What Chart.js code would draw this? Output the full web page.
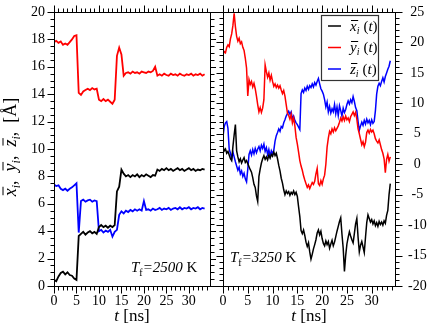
<!DOCTYPE html>
<html><head><meta charset="utf-8">
<script src="https://cdn.jsdelivr.net/npm/chart.js@4/dist/chart.umd.min.js"></script>
<style>
html,body{margin:0;padding:0;background:#fff;}
#wrap{position:relative;width:429px;height:329px;overflow:hidden;}
#c1{position:absolute;left:0;top:0;}
#c2{position:absolute;left:216px;top:0;}
</style></head>
<body><div id="wrap"><canvas id="c1" width="216" height="329"></canvas><canvas id="c2" width="213" height="329"></canvas></div>
<script>
// ---------- DATA ----------
// Left panel: T_f = 2500 K, time [ns]
const tLeft = [0,0.5,1,1.5,2,2.5,3,3.5,4,4.5,5,5.5,6,6.5,7,7.5,8,8.5,9,9.5,10,10.5,11,11.5,12,12.5,13,13.5,14,14.5,15,15.5,16,16.5,17,17.5,18,18.5,19,19.5,20,20.5,21,21.5,22,22.5,23,23.5,24,24.5,25,25.5,26,26.5,27,27.5,28,28.5,29,29.5,30,30.5,31,31.5,32,32.5,33,33.5];
const xLeft = [0.45,0.35,0.7,0.95,1.05,0.85,1.0,0.8,0.75,0.55,0.45,3.65,3.8,3.95,3.75,3.9,4.0,3.85,3.95,3.8,4.3,4.45,4.3,4.4,4.25,4.4,4.3,4.45,6.9,7.25,8.5,8.2,8.0,8.1,7.95,8.1,8.0,8.15,7.95,8.1,8.0,8.15,8.05,7.95,8.1,8.05,8.5,8.4,8.55,8.45,8.6,8.45,8.55,8.4,8.5,8.6,8.45,8.55,8.4,8.5,8.6,8.45,8.55,8.4,8.5,8.45,8.55,8.5];
const yLeft = [17.8,17.9,17.75,17.85,17.6,17.7,17.6,17.8,18.0,18.25,18.3,14.1,13.95,14.2,14.3,14.4,14.3,14.45,14.35,14.4,13.6,13.5,13.65,13.5,13.6,13.45,13.3,13.6,16.8,17.4,16.9,15.35,15.55,15.6,15.5,15.65,15.55,15.6,15.5,15.65,15.6,15.55,15.65,15.6,15.7,16.0,15.35,15.45,15.35,15.5,15.4,15.35,15.5,15.4,15.45,15.35,15.5,15.4,15.35,15.45,15.4,15.5,15.35,15.45,15.4,15.5,15.35,15.45];
const zLeft = [7.4,7.3,7.35,7.1,7.0,7.1,6.95,7.1,7.2,7.35,7.5,3.9,6.2,6.3,6.15,6.25,6.3,6.15,6.25,6.2,4.0,4.1,3.9,4.05,3.95,4.1,3.6,3.95,4.1,5.2,5.45,5.3,5.5,5.4,5.55,5.45,5.6,5.5,5.6,5.5,6.2,5.55,5.6,5.5,5.65,5.55,5.6,5.7,5.55,5.65,5.6,5.7,5.55,5.65,5.7,5.6,5.75,5.6,5.7,5.65,5.75,5.6,5.7,5.65,5.75,5.6,5.7,5.65];

// Right panel: T_f = 3250 K, time [ns]
const tRight = [0,0.25,0.5,0.75,1,1.25,1.5,1.75,2,2.25,2.5,2.75,3,3.25,3.5,3.75,4,4.25,4.5,4.75,5,5.25,5.5,5.75,6,6.25,6.5,6.75,7,7.25,7.5,7.75,8,8.25,8.5,8.75,9,9.25,9.5,9.75,10,10.25,10.5,10.75,11,11.25,11.5,11.75,12,12.25,12.5,12.75,13,13.25,13.5,13.75,14,14.25,14.5,14.75,15,15.25,15.5,15.75,16,16.25,16.5,16.75,17,17.25,17.5,17.75,18,18.25,18.5,18.75,19,19.25,19.5,19.75,20,20.25,20.5,20.75,21,21.25,21.5,21.75,22,22.25,22.5,22.75,23,23.25,23.5,23.75,24,24.25,24.5,24.75,25,25.25,25.5,25.75,26,26.25,26.5,26.75,27,27.25,27.5,27.75,28,28.25,28.5,28.75,29,29.25,29.5,29.75,30,30.25,30.5,30.75,31,31.25,31.5,31.75,32,32.25,32.5,32.75,33,33.25,33.5,33.75];
const xRight = [2.9,2.2,2.5,1.8,2.1,1.5,0.9,0.6,2.9,4.8,6.5,2.2,1.2,0.4,0.9,0.2,0.7,1.1,0.3,0.6,0.1,-0.4,-0.9,-1.3,-2.2,-3.3,-3.8,-5.2,-6.1,-2.0,-0.8,0.2,0.9,1.4,0.8,1.2,0.7,1.5,1.0,1.6,1.3,2.0,1.4,1.8,0.9,-0.2,-1.1,-2.3,-3.1,-4.2,-5.0,-4.4,-4.8,-4.5,-5.1,-4.6,-4.9,-4.4,-5.0,-4.6,-5.3,-7.0,-8.6,-10.9,-11.4,-10.8,-11.7,-12.8,-13.5,-12.9,-14.4,-15.6,-14.8,-13.9,-13.2,-12.4,-11.3,-10.8,-11.6,-11.0,-12.2,-13.0,-13.4,-12.6,-13.2,-12.7,-13.8,-13.1,-12.5,-13.4,-12.8,-11.9,-11.0,-10.2,-9.4,-8.8,-11.5,-13.8,-17.6,-15.0,-13.1,-12.0,-11.1,-11.8,-12.4,-12.9,-11.4,-9.8,-8.9,-12.0,-14.4,-13.3,-12.7,-13.6,-14.5,-12.0,-9.6,-8.3,-8.9,-9.5,-9.1,-9.8,-9.3,-10.1,-9.6,-10.2,-9.4,-9.9,-9.5,-10.0,-9.3,-9.7,-8.4,-7.6,-5.0,-3.2];
const yRight = [18.0,18.5,18.3,19.2,19.6,19.3,20.6,21.4,22.8,24.8,22.6,21.0,20.2,20.7,19.8,20.1,19.2,18.7,17.4,15.8,11.2,13.9,13.1,13.6,12.7,13.3,12.4,11.2,9.8,8.6,9.3,8.5,9.2,10.6,16.3,15.2,14.3,15.0,13.8,14.6,13.6,12.8,13.2,12.6,13.0,12.5,12.9,12.2,11.6,12.1,11.2,9.8,8.4,8.0,7.4,8.2,6.8,7.6,6.3,4.4,3.3,2.0,0.6,-0.3,-1.0,-1.9,-2.6,-3.2,-3.8,-3.4,-4.0,-3.5,-3.0,-3.3,-2.8,-1.6,-0.7,-3.2,-3.5,-2.7,-3.3,-2.4,-1.8,0.0,2.8,4.3,5.4,5.0,5.8,5.3,6.0,5.5,5.9,6.3,6.9,7.6,7.1,7.8,7.2,7.9,7.3,7.6,7.0,7.8,8.2,8.6,8.0,8.5,7.4,5.8,5.0,4.1,3.2,3.7,2.9,3.6,5.2,5.6,5.1,5.7,5.3,5.6,5.0,4.2,3.8,3.5,4.0,3.2,2.4,1.8,0.9,-1.4,0.8,1.6,0.5,1.2];
const zRight = [4.5,6.2,6.8,7.0,5.9,2.5,1.8,0.9,2.0,1.2,0.4,-0.3,-1.0,-0.5,-1.6,-1.1,-2.0,-1.5,-2.4,-2.9,-0.8,1.6,2.2,1.5,2.4,1.7,2.6,1.9,2.5,2.9,2.2,3.1,2.6,3.3,2.1,2.7,1.6,2.4,1.3,2.2,1.7,2.3,3.8,4.7,5.2,5.8,5.4,6.2,6.0,6.8,7.3,7.9,8.3,8.7,8.2,8.6,7.5,7.9,7.2,6.8,6.5,6.1,5.7,11.6,12.2,11.8,12.5,12.1,12.8,12.3,12.9,12.6,13.2,12.7,13.4,13.0,13.6,14.1,13.2,12.4,12.0,11.5,10.6,9.4,10.2,8.6,9.5,8.4,9.1,8.6,9.8,8.3,9.4,8.0,9.6,8.8,7.9,9.2,8.5,9.0,9.8,10.4,9.9,10.6,10.1,11.1,10.3,9.3,8.8,7.0,5.6,6.3,6.9,6.4,7.2,6.6,7.4,6.8,7.2,6.5,7.3,6.7,7.0,8.8,11.5,12.8,13.3,12.9,13.6,14.2,13.5,14.4,15.0,15.6,16.1,17.0];

const xTicks = {min: 0, max: 34.7, major: 5, minor: 1};
const leftY = {min: 0, max: 20, major: 2, minor: 0.5};
const rightY = {min: -20, max: 25, major: 5, minor: 1};
const seriesColors = ['#000000', '#ff0000', '#0000ff'];
const tempLeft = '2500', tempRight = '3250';

// ---------- HELPERS ----------
const SERIF = '"Liberation Serif", "DejaVu Serif", serif';
function pts(t, v){ const n = Math.min(t.length, v.length); const a = []; for (let i = 0; i < n; i++) a.push({x: t[i], y: v[i]}); return a; }
function f(sz, it){ return (it ? 'italic ' : '') + sz + 'px ' + SERIF; }
function measureRich(ctx, parts){ let w = 0; for (const p of parts){ ctx.font = p.f; w += ctx.measureText(p.t).width + (p.sp || 0); } return w; }
function drawRich(ctx, x, y, parts){
  let cx = x;
  ctx.fillStyle = '#000'; ctx.strokeStyle = '#000'; ctx.textBaseline = 'alphabetic'; ctx.textAlign = 'left';
  for (const p of parts){
    ctx.font = p.f;
    const w = ctx.measureText(p.t).width;
    ctx.fillText(p.t, cx, y + (p.dy || 0));
    if (p.ov){
      ctx.beginPath(); ctx.lineWidth = 1;
      const oy = Math.round(y - p.ov) + 0.5;
      ctx.moveTo(cx + 1, oy); ctx.lineTo(cx + w + 1.5, oy); ctx.stroke();
    }
    cx += w + (p.sp || 0);
  }
  return cx - x;
}
function drawTicks(ctx, chart, yCfg, yKey){
  const ca = chart.chartArea, xs = chart.scales.x, ys = chart.scales[yKey];
  const L = Math.round(ca.left) + 0.5, R = Math.round(ca.right) + 0.5, T = Math.round(ca.top) + 0.5, B = Math.round(ca.bottom) + 0.5;
  ctx.save();
  ctx.strokeStyle = '#000'; ctx.lineWidth = 1;
  ctx.beginPath();
  for (let v = xTicks.min; v <= xTicks.max + 1e-9; v += xTicks.minor){
    const px = Math.round(xs.getPixelForValue(v)) + 0.5;
    const len = (Math.abs(v % xTicks.major) < 1e-6) ? 7 : 4;
    ctx.moveTo(px, B); ctx.lineTo(px, B + len);
    ctx.moveTo(px, T); ctx.lineTo(px, T - len);
  }
  const n = Math.round((yCfg.max - yCfg.min) / yCfg.minor);
  for (let i = 0; i <= n; i++){
    const v = yCfg.min + i * yCfg.minor;
    const py = Math.round(ys.getPixelForValue(v)) + 0.5;
    const r = (v - yCfg.min) / yCfg.major;
    const len = (Math.abs(r - Math.round(r)) < 1e-6) ? 7 : 4;
    ctx.moveTo(L, py); ctx.lineTo(L - len, py);
    ctx.moveTo(R, py); ctx.lineTo(R + len, py);
  }
  ctx.stroke();
  ctx.strokeRect(L, T, R - L, B - T);
  ctx.restore();
  return {L, R, T, B};
}

function makeDatasets(t, a, b, c, w){
  return [a, b, c].map((v, i) => ({
    data: pts(t, v), borderColor: seriesColors[i], borderWidth: w,
    pointRadius: 0, tension: 0, fill: false
  }));
}
function axisX(){
  return {
    type: 'linear', position: 'bottom', min: xTicks.min, max: xTicks.max,
    afterFit(s){ s.height = 43; },
    border: {display: false},
    grid: {display: true, drawOnChartArea: false, drawTicks: true, tickLength: 7, color: 'rgba(0,0,0,0)'},
    ticks: {stepSize: xTicks.major, includeBounds: false, autoSkip: false, maxRotation: 0, padding: 0, color: '#000', font: {family: SERIF, size: 14}}
  };
}

// ---------- LEFT CHART ----------
const leftPlugin = {
  id: 'leftDeco',
  afterDraw(chart){
    const ctx = chart.ctx;
    const b = drawTicks(ctx, chart, leftY, 'y');
    ctx.save();
    ctx.strokeStyle = '#000'; ctx.lineWidth = 1;
    ctx.beginPath();
    ctx.moveTo(b.R, b.T); ctx.lineTo(chart.width, b.T);
    ctx.moveTo(b.R, b.B); ctx.lineTo(chart.width, b.B);
    ctx.stroke();
    // x title
    const xt = [{t: 't', f: f(17, true)}, {t: ' [ns]', f: f(17)}];
    const cxm = (chart.chartArea.left + chart.chartArea.right) / 2;
    drawRich(ctx, cxm - measureRich(ctx, xt) / 2, 321, xt);
    // y title (rotated)
    const yt = [
      {t: 'x', f: f(18, true), ov: 13}, {t: 'i', f: f(12, true), dy: 4}, {t: ',  ', f: f(18)},
      {t: 'y', f: f(18, true), ov: 13}, {t: 'i', f: f(12, true), dy: 4}, {t: ',  ', f: f(18)},
      {t: 'z', f: f(18, true), ov: 13}, {t: 'i', f: f(12, true), dy: 4}, {t: ',  ', f: f(18)},
      {t: '[Å]', f: f(18)}
    ];
    const W = measureRich(ctx, yt);
    ctx.translate(15.5, 147);
    ctx.rotate(-Math.PI / 2);
    drawRich(ctx, -W / 2, 0, yt);
    ctx.restore();
    // annotation
    ctx.save();
    drawRich(ctx, 131, 271.5, [{t: 'T', f: f(15, true)}, {t: 'f', f: f(10), dy: 4}, {t: '=' + tempLeft, f: f(15, true)}, {t: ' K', f: f(15)}]);
    ctx.restore();
  }
};

new Chart(document.getElementById('c1'), {
  type: 'line',
  data: {datasets: makeDatasets(tLeft, xLeft, yLeft, zLeft, 1.8)},
  options: {
    responsive: false, animation: false, devicePixelRatio: 1,
    layout: {padding: {left: 0, top: 12, right: 6, bottom: 0}},
    plugins: {legend: {display: false}, tooltip: {enabled: false}},
    scales: {
      x: axisX(),
      y: {
        type: 'linear', position: 'left', min: leftY.min, max: leftY.max,
        afterFit(s){ s.width = 54; },
        border: {display: false},
        grid: {display: true, drawOnChartArea: false, drawTicks: true, tickLength: 9, color: 'rgba(0,0,0,0)'},
        ticks: {stepSize: leftY.major, autoSkip: false, padding: 0, color: '#000', font: {family: SERIF, size: 14}}
      }
    }
  },
  plugins: [leftPlugin]
});

// ---------- RIGHT CHART ----------
const rightPlugin = {
  id: 'rightDeco',
  afterDraw(chart){
    const ctx = chart.ctx;
    const b = drawTicks(ctx, chart, rightY, 'y');
    ctx.save();
    ctx.strokeStyle = '#000'; ctx.lineWidth = 1;
    ctx.beginPath();
    ctx.moveTo(0, b.T); ctx.lineTo(b.L, b.T);
    ctx.moveTo(0, b.B); ctx.lineTo(b.L, b.B);
    ctx.stroke();
    const xt = [{t: 't', f: f(17, true)}, {t: ' [ns]', f: f(17)}];
    const cxm = (chart.chartArea.left + chart.chartArea.right) / 2;
    drawRich(ctx, cxm - measureRich(ctx, xt) / 2, 321, xt);
    // legend
    ctx.fillStyle = '#fff';
    ctx.fillRect(105.5, 15.5, 57, 65);
    ctx.strokeStyle = '#333'; ctx.lineWidth = 1.2;
    ctx.strokeRect(105.5, 15.5, 57, 65);
    const names = ['x', 'y', 'z'];
    const base = [30.5, 52, 73.5];
    for (let i = 0; i < 3; i++){
      ctx.beginPath(); ctx.strokeStyle = seriesColors[i]; ctx.lineWidth = 1.5;
      ctx.moveTo(112, base[i] - 4.5); ctx.lineTo(125, base[i] - 4.5); ctx.stroke();
      drawRich(ctx, 134, base[i], [
        {t: names[i], f: f(15, true), ov: 11}, {t: 'i', f: f(10, true), dy: 3, sp: 4},
        {t: '(', f: f(15)}, {t: 't', f: f(15, true)}, {t: ')', f: f(15)}
      ]);
    }
    drawRich(ctx, 14, 261.5, [{t: 'T', f: f(15, true)}, {t: 'f', f: f(10), dy: 4}, {t: '=' + tempRight, f: f(15, true)}, {t: ' K', f: f(15)}]);
    ctx.restore();
  }
};

new Chart(document.getElementById('c2'), {
  type: 'line',
  data: {datasets: makeDatasets(tRight, xRight, yRight, zRight, 1.5)},
  options: {
    responsive: false, animation: false, devicePixelRatio: 1,
    layout: {padding: {left: 7, top: 12, right: 0, bottom: 0}},
    plugins: {legend: {display: false}, tooltip: {enabled: false}},
    scales: {
      x: axisX(),
      y: {
        type: 'linear', position: 'right', min: rightY.min, max: rightY.max,
        afterFit(s){ s.width = 34; },
        border: {display: false},
        grid: {display: true, drawOnChartArea: false, drawTicks: true, tickLength: 13, color: 'rgba(0,0,0,0)'},
        ticks: {stepSize: rightY.major, autoSkip: false, padding: 0, crossAlign: 'center', color: '#000', font: {family: SERIF, size: 14}}
      }
    }
  },
  plugins: [rightPlugin]
});
</script>
</body></html>
